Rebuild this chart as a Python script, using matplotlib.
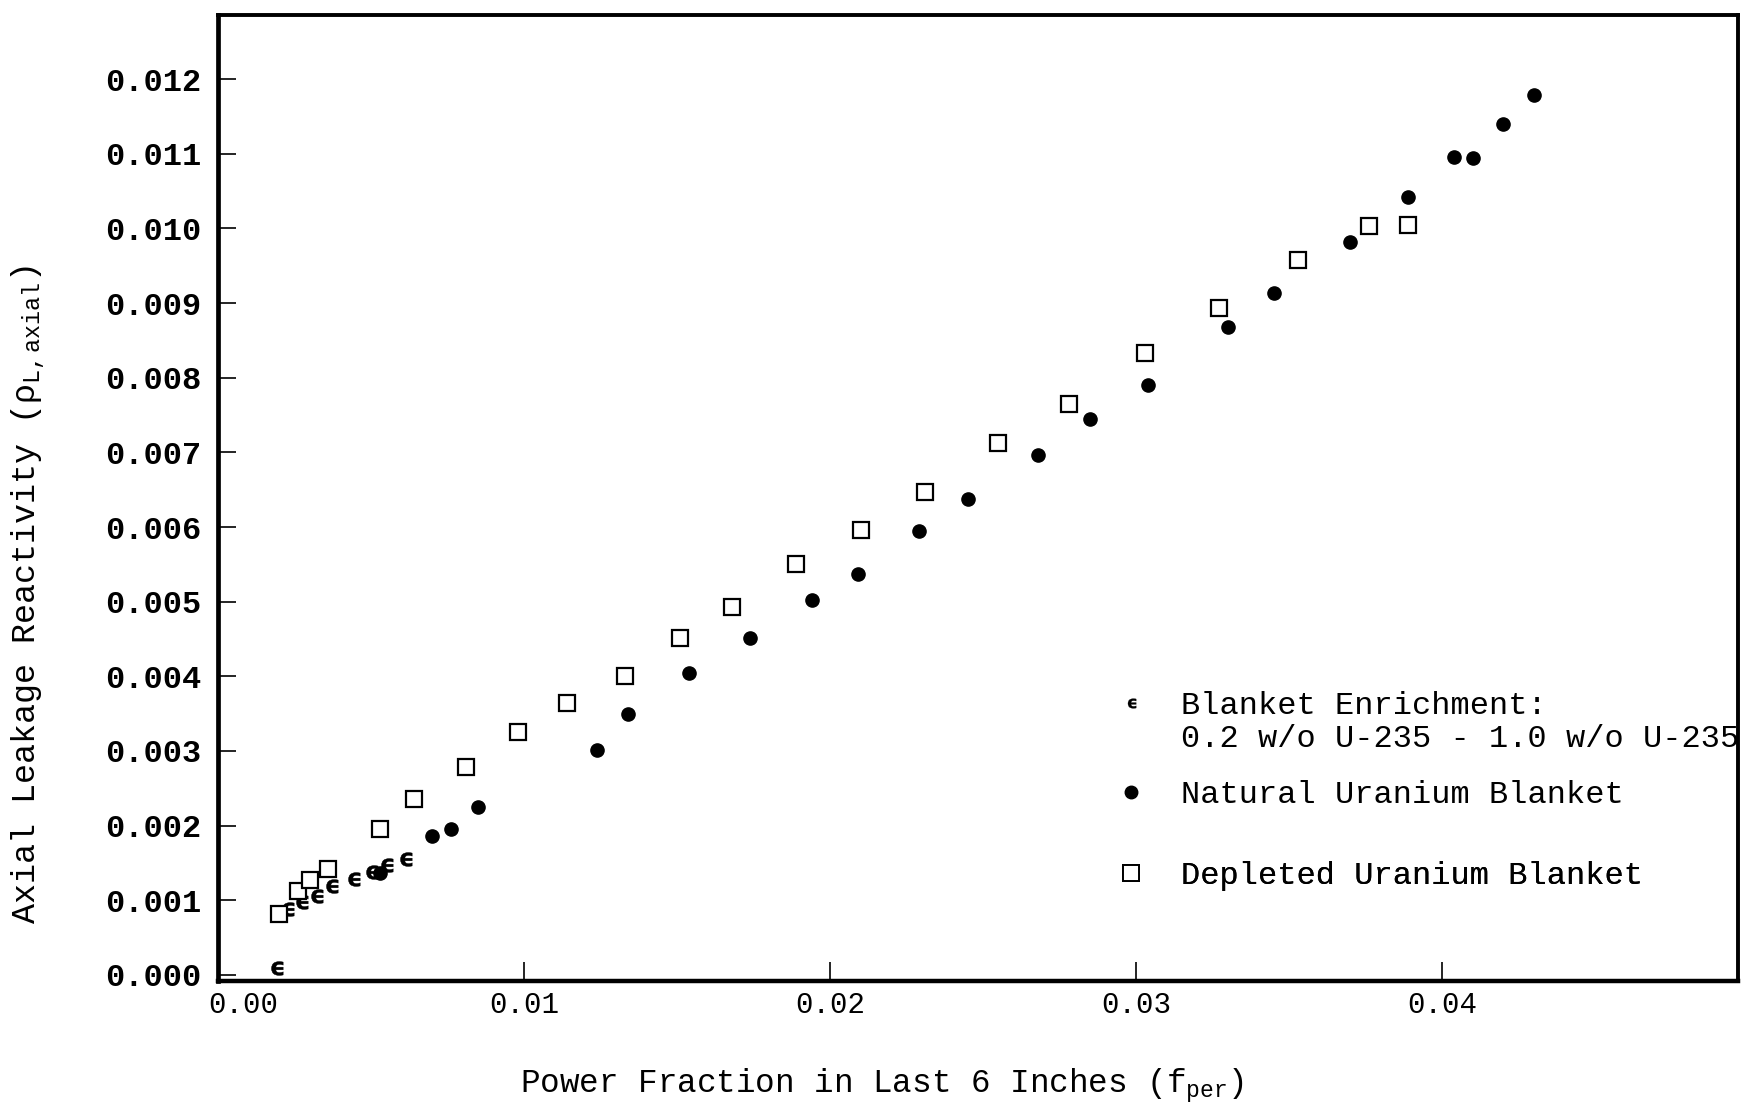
import matplotlib
matplotlib.use("Agg")
import matplotlib.pyplot as plt
from matplotlib.lines import Line2D
from matplotlib.path import Path
from matplotlib.textpath import TextPath
from matplotlib.font_manager import FontProperties
from matplotlib.transforms import ScaledTranslation

# Axial leakage reactivity vs. power fraction in the last 6 inches of core
enriched_x = [0.0019, 0.00225, 0.0027, 0.0032, 0.0037, 0.0044, 0.0050, 0.0055, 0.0061]
enriched_y = [0.00009, 0.00089, 0.00098, 0.00106, 0.00119, 0.00129, 0.00138, 0.00147, 0.00155]

natural_x = [0.0053, 0.0070, 0.0076, 0.0085, 0.0124, 0.0134, 0.0154, 0.0174, 0.0194,
             0.0209, 0.0229, 0.0245, 0.0268, 0.0285, 0.0304, 0.0330, 0.0345, 0.0370,
             0.0389, 0.0404, 0.0410, 0.0420, 0.0430]
natural_y = [0.00137, 0.00186, 0.00195, 0.00225, 0.00301, 0.00349, 0.00405, 0.00452, 0.00502,
             0.00537, 0.00595, 0.00638, 0.00696, 0.00745, 0.00790, 0.00868, 0.00914, 0.00982,
             0.01042, 0.01096, 0.01094, 0.01140, 0.01179]

depleted_x = [0.0020, 0.0026, 0.0030, 0.0036, 0.0053, 0.0064, 0.0081, 0.0098, 0.0114,
              0.0133, 0.0151, 0.0168, 0.0189, 0.0210, 0.0231, 0.0255, 0.0278, 0.0303,
              0.0327, 0.0353, 0.0376, 0.0389]
depleted_y = [0.00082, 0.00112, 0.00127, 0.00142, 0.00195, 0.00236, 0.00279, 0.00326, 0.00364,
              0.00401, 0.00452, 0.00493, 0.00550, 0.00596, 0.00647, 0.00713, 0.00765, 0.00833,
              0.00893, 0.00957, 0.01003, 0.01005]

x_ticks = [0.00, 0.01, 0.02, 0.03, 0.04]
x_tick_labels = ["0.00", "0.01", "0.02", "0.03", "0.04"]
y_ticks = [0.000, 0.001, 0.002, 0.003, 0.004, 0.005, 0.006, 0.007, 0.008, 0.009, 0.010, 0.011, 0.012]
y_tick_labels = ["%.3f" % v for v in y_ticks]

label_enriched = "Blanket Enrichment:"
label_enriched_2 = "0.2 w/o U-235 - 1.0 w/o U-235"
label_natural = "Natural Uranium Blanket"
label_depleted = "Depleted Uranium Blanket"

MONO = "Liberation Mono"
plt.rcParams["font.family"] = [MONO, "DejaVu Sans"]
plt.rcParams["mathtext.fontset"] = "custom"
plt.rcParams["mathtext.rm"] = MONO
plt.rcParams["mathtext.it"] = MONO
plt.rcParams["mathtext.bf"] = MONO + ":bold"

# lunate epsilon glyph used as a plotting symbol, centred on its own box
_glyph = TextPath((0, 0), "\u03f5", prop=FontProperties(family="DejaVu Sans", weight="bold"))
_v = _glyph.vertices
_c = (_v.min(axis=0) + _v.max(axis=0)) / 2.0
EPS = Path(_v - _c, _glyph.codes)

fig = plt.figure(figsize=(17.43, 11.16), dpi=100)
ax = fig.add_axes([0.1251, 0.1210, 0.8720, 0.8656])

ink = "black"
ax.plot(enriched_x, enriched_y, linestyle="none", marker=EPS, ms=10, color=ink, mew=0.3)
ax.plot(natural_x, natural_y, linestyle="none", marker="o", ms=9.5, color=ink)
ax.plot(depleted_x, depleted_y, linestyle="none", marker="s", ms=12,
        mfc="white", mec=ink, mew=1.6)

ax.set_xlim(0.0, 0.04967)
ax.set_ylim(-0.00008, 0.012858)

ax.set_xticks(x_ticks)
ax.set_xticklabels(x_tick_labels, fontsize=21)
ax.set_yticks(y_ticks)
ax.set_yticklabels(y_tick_labels, fontsize=23, fontweight="bold")

ax.tick_params(axis="x", direction="in", length=14, width=1.2, pad=7, colors=ink)
ax.tick_params(axis="y", direction="in", length=13, width=1.2, pad=12, colors=ink)

# nudge the first x label off the corner
first = ax.get_xticklabels()[0]
first.set_transform(first.get_transform() + ScaledTranslation(0.25, 0, fig.dpi_scale_trans))

for side, lw in (("left", 3.4), ("bottom", 3.2), ("top", 2.8), ("right", 2.8)):
    ax.spines[side].set_linewidth(lw)
    ax.spines[side].set_color(ink)

ax.set_xlabel(r"Power Fraction in Last 6 Inches (f$_{\mathrm{per}}$)", fontsize=23.5,
              va="baseline")
ax.xaxis.set_label_coords(0.437, -0.1159)
ax.set_ylabel(r"Axial Leakage Reactivity ($\rho_{\mathrm{L,axial}}$)", fontsize=24,
              va="center")
ax.yaxis.set_label_coords(-0.125, 0.40)

# key entries, each placed on its own row
def add_key(handle, text, y_frac):
    leg = ax.legend([handle], [text], loc="center left", bbox_to_anchor=(0.590, y_frac),
                    frameon=False, handlelength=1.0, handletextpad=1.06, borderpad=0,
                    borderaxespad=0, prop={"family": MONO, "size": 23})
    ax.add_artist(leg)

add_key(Line2D([], [], linestyle="none", marker=EPS, ms=7, color=ink, mew=0.2),
        label_enriched, 0.2845)
add_key(Line2D([], [], linestyle="none", marker="o", ms=9, color=ink),
        label_natural, 0.1927)
add_key(Line2D([], [], linestyle="none", marker="s", ms=11, mfc="white", mec=ink, mew=1.4),
        label_depleted, 0.1087)
ax.text(0.6336, 0.2505, label_enriched_2, transform=ax.transAxes, fontsize=23,
        va="center", ha="left", family=MONO)

fig.savefig("out.png", dpi=100, facecolor="white")
